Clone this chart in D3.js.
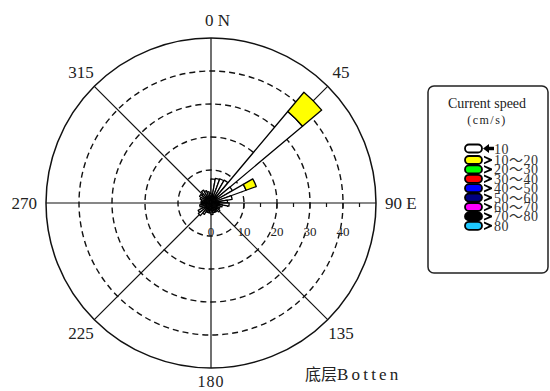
<!DOCTYPE html>
<html>
<head>
<meta charset="utf-8">
<script src="https://cdn.jsdelivr.net/npm/d3@7/dist/d3.min.js"></script>
<style>
  html, body { margin: 0; padding: 0; background: #fff; }
  svg { display: block; }
</style>
</head>
<body>
<svg id="chart" width="550" height="391"></svg>
<script>
// Direction bins (start of each 10° sector, clockwise from north)
const sectorStart = d3.range(0, 360, 10);
// Frequency (%) of current speed < 10 cm/s per sector
const freqBelow10 = [7.3, 7.6, 7.8, 8.0, 36.2, 7.5, 11.3, 6.5, 5.0, 5.5, 3.5, 3.0,
                     3.0, 3.5, 3.0, 3.0, 3.0, 3.5, 3.0, 3.0, 3.0, 4.0, 5.0, 4.5,
                     3.0, 3.5, 3.0, 3.0, 3.0, 3.5, 4.0, 3.5, 4.5, 4.0, 3.5, 3.0];
// Frequency (%) of current speed 10~20 cm/s per sector
const freq10to20 = [0, 0, 0, 0, 7.6, 0, 3.3, 0, 0, 0, 0, 0,
                    0, 0, 0, 0, 0, 0, 0, 0, 0, 0, 0, 0,
                    0, 0, 0, 0, 0, 0, 0, 0, 0, 0, 0, 0];
// Radial grid and tick values
const ringValues = [10, 20, 30, 40];
const ringLabels = ["0", "10", "20", "30", "40"];
const minorTicks = [5, 10, 15, 20, 25, 30, 35, 40, 45];
// Compass directions and their labels
const spokeAngles = [0, 45, 90, 135, 180, 225, 270, 315];
const spokeLabels = ["0 N", "45", "90 E", "135", "180", "225", "270", "315"];
// Legend
const legendClasses = ["10", "10～20", "20～30", "30～40", "40～50", "50～60", "60～70", "70～80", "80"];
const legendColors = ["#ffffff", "#ffff00", "#00ff00", "#ff0000", "#0000ff", "#000080", "#ff00ff", "#000000", "#1ec8ff"];

const svg = d3.select("#chart");
const cx = 211, cy = 203, R = 165, maxVal = 50;
const serif = "'Liberation Serif', 'Times New Roman', serif";

const r = d3.scaleLinear().domain([0, maxVal]).range([0, R]);
const rad = d => d * Math.PI / 180;

const g = svg.append("g").attr("transform", `translate(${cx},${cy})`);

// dashed rings
g.selectAll("circle.ring").data(ringValues).join("circle")
  .attr("class", "ring")
  .attr("r", d => r(d))
  .attr("fill", "none")
  .attr("stroke", "#111")
  .attr("stroke-width", 1.4)
  .attr("stroke-dasharray", "6,4");

// spokes
g.selectAll("line.spoke").data(spokeAngles).join("line")
  .attr("class", "spoke")
  .attr("x1", 0).attr("y1", 0)
  .attr("x2", d => R * Math.sin(rad(d)))
  .attr("y2", d => -R * Math.cos(rad(d)))
  .attr("stroke", "#111")
  .attr("stroke-width", 1.2);

// outer circle
g.append("circle")
  .attr("r", r(maxVal))
  .attr("fill", "none")
  .attr("stroke", "#111")
  .attr("stroke-width", 1.5);

// radial axis ticks along east
g.selectAll("line.tick").data(minorTicks).join("line")
  .attr("class", "tick")
  .attr("x1", d => r(d)).attr("x2", d => r(d))
  .attr("y1", 0).attr("y2", d => d % 10 === 0 ? 5 : 4)
  .attr("stroke", "#111")
  .attr("stroke-width", 1.2);

// radial axis labels
g.selectAll("text.rlab").data(ringLabels).join("text")
  .attr("class", "rlab")
  .attr("x", d => r(+d))
  .attr("y", 28)
  .attr("text-anchor", "middle")
  .attr("dominant-baseline", "central")
  .attr("font-family", serif)
  .attr("font-size", 13)
  .attr("fill", "#222")
  .text(d => d);

// stacked petals
const arc = d3.arc();
const bands = [
  { values: freqBelow10, color: legendColors[0] },
  { values: freq10to20, color: legendColors[1] }
];
const petals = [];
sectorStart.forEach((s, i) => {
  let base = 0;
  bands.forEach(b => {
    const v = b.values[i];
    if (v > 0) {
      petals.push({ start: s, end: s + 10, inner: base, outer: base + v, color: b.color });
      base += v;
    }
  });
});
g.selectAll("path.petal").data(petals).join("path")
  .attr("class", "petal")
  .attr("d", d => arc({
    innerRadius: r(d.inner), outerRadius: r(d.outer),
    startAngle: rad(d.start), endAngle: rad(d.end)
  }))
  .attr("fill", d => d.color)
  .attr("stroke", "#000")
  .attr("stroke-width", 1.3)
  .attr("stroke-linejoin", "round");

// direction labels
spokeAngles.forEach((a, i) => {
  const t = spokeLabels[i];
  let x, y, anchor = "middle";
  if (a === 90) { x = R + 9; y = 0; anchor = "start"; }
  else if (a === 270) { x = -(R + 9); y = 0; anchor = "end"; }
  else if (a === 0) { x = -6; y = -(R + 18); anchor = "start"; }
  else if (a === 180) { x = 0; y = R + 13; }
  else { const lr = R + 19; x = lr * Math.sin(rad(a)); y = -lr * Math.cos(rad(a)); }
  g.append("text")
    .attr("x", x).attr("y", y)
    .attr("text-anchor", anchor)
    .attr("dominant-baseline", "central")
    .attr("font-family", serif)
    .attr("font-size", a === 180 ? 16 : 17)
    .attr("letter-spacing", a === 180 ? 1 : 0)
    .attr("fill", "#222")
    .text(t);
});

// title
svg.append("text")
  .attr("x", 305).attr("y", 380)
  .attr("font-family", serif + ", 'Noto Sans CJK SC'")
  .attr("font-size", 17)
  .attr("fill", "#222")
  .call(t => {
    t.append("tspan").attr("font-family", "'Noto Sans CJK SC'").attr("font-size", 16).text("底层");
    t.append("tspan").attr("letter-spacing", 3.2).text("Botten");
  });

// legend
const lg = svg.append("g");
lg.append("rect")
  .attr("x", 428).attr("y", 86)
  .attr("width", 120).attr("height", 187)
  .attr("rx", 6)
  .attr("fill", "#fff")
  .attr("stroke", "#222")
  .attr("stroke-width", 1.5);
lg.append("text")
  .attr("x", 487).attr("y", 108)
  .attr("text-anchor", "middle")
  .attr("font-family", serif)
  .attr("font-size", 14)
  .attr("fill", "#222")
  .text("Current speed");
lg.append("text")
  .attr("x", 487).attr("y", 124)
  .attr("text-anchor", "middle")
  .attr("font-family", serif)
  .attr("font-size", 12)
  .attr("letter-spacing", 1.5)
  .attr("fill", "#222")
  .text("(cm/s)");

const rowY = i => i === 0 ? 148.5 : 160 + (i - 1) * 9.4;
const rows = lg.selectAll("g.row").data(legendClasses).join("g")
  .attr("class", "row")
  .attr("transform", (d, i) => `translate(0,${rowY(i)})`);
rows.append("rect")
  .attr("x", 465).attr("y", -4)
  .attr("width", 17).attr("height", 8)
  .attr("rx", 4)
  .attr("fill", (d, i) => legendColors[i])
  .attr("stroke", "#000")
  .attr("stroke-width", 1.8);
rows.each(function(d, i) {
  const row = d3.select(this);
  if (i === 0) {
    row.append("path")
      .attr("d", "M483,0 L489,-4.5 L489,-1.8 L494,-1.8 L494,1.8 L489,1.8 L489,4.5 Z")
      .attr("fill", "#000");
  } else {
    row.append("path")
      .attr("d", "M484,-4.2 L492,-0.8 L492,0.8 L484,4.2 L484,2.4 L489,0 L484,-2.4 Z")
      .attr("fill", "#000");
  }
  row.append("text")
    .attr("x", 494).attr("y", 0.5)
    .attr("dominant-baseline", "central")
    .attr("font-family", serif + ", 'Noto Sans CJK SC'")
    .attr("font-size", 14)
    .attr("letter-spacing", 0.5)
    .attr("fill", "#333")
    .text(d);
});
</script>
</body>
</html>
